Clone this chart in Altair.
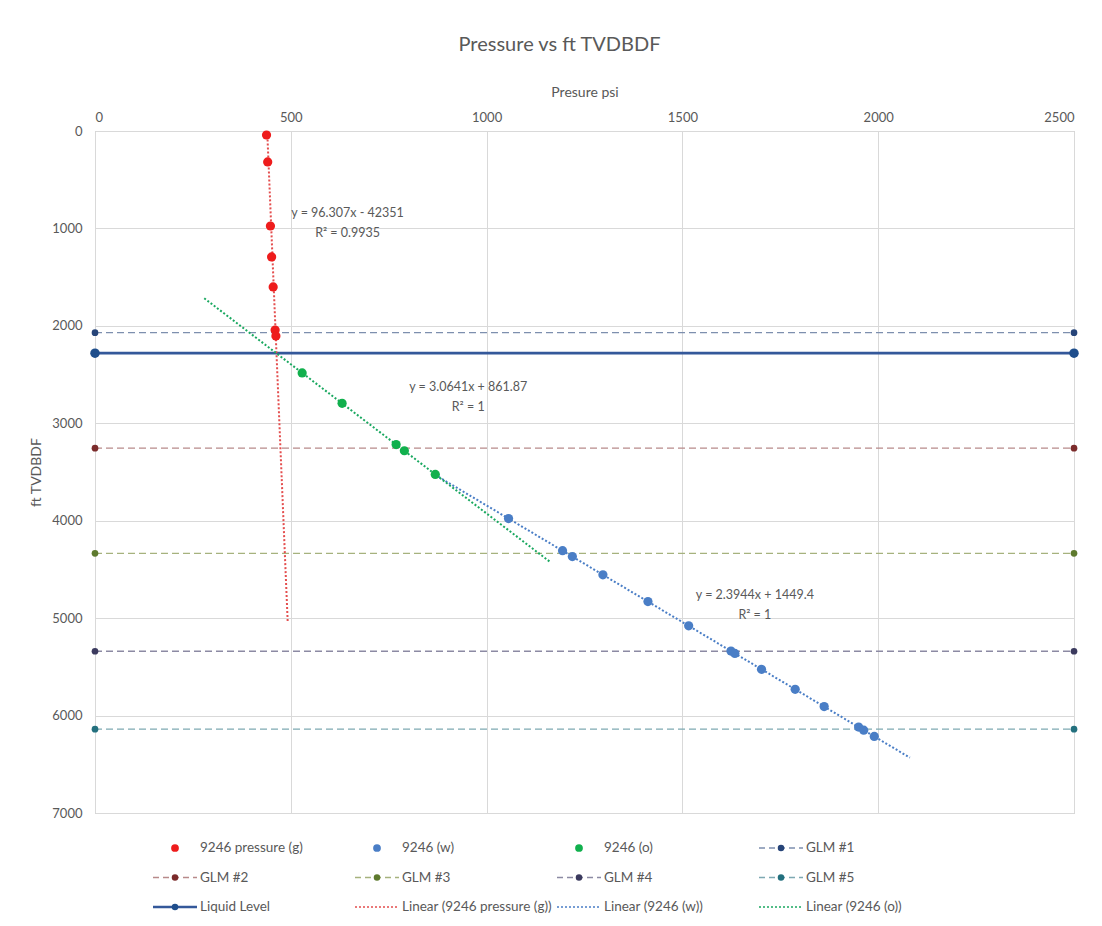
import altair as alt
import pandas as pd

# ---------------- data ----------------
g_psi = [438, 441, 448, 451, 455, 460, 462]
g_depth = [41, 318, 975, 1293, 1601, 2043, 2104]
w_psi = [1056, 1194, 1219, 1297, 1412, 1516, 1624, 1634, 1702, 1788, 1862, 1950, 1963, 1990]
w_depth = [3978, 4308, 4368, 4555, 4830, 5079, 5338, 5362, 5525, 5731, 5908, 6118, 6150, 6214]
o_psi = [529, 631, 769, 790, 869]
o_depth = [2483, 2795, 3218, 3282, 3525]

series_names = ["9246 pressure (g)", "9246 (w)", "9246 (o)"]
series_colors = ["#ee1c1c", "#4a7ec6", "#11b04d"]

glm_names = ["GLM #1", "GLM #2", "GLM #3", "GLM #4", "GLM #5"]
glm_depth = [2070, 3255, 4335, 5340, 6140]
glm_dot_colors = ["#264478", "#7b2b2b", "#5e7a2e", "#3b3a5e", "#23707e"]
glm_line_colors = ["#7d8fae", "#b88a8a", "#a6b27e", "#8c8aa3", "#7ea9b2"]

liquid_name = "Liquid Level"
liquid_depth = 2280
liquid_line_color = "#34589a"
liquid_dot_color = "#1f4e8c"

x_ends = [0, 2500]

trend_slope = [96.307, 2.3944, 3.0641]
trend_intercept = [-42351, 1449.4, 861.87]
trend_x_start = [439.8, 860, 279]
trend_x_end = [492, 2081, 1163]
trend_colors = ["#e44e4e", "#4a7ec6", "#1aa860"]
trend_eq = ["y = 96.307x - 42351", "y = 2.3944x + 1449.4", "y = 3.0641x + 861.87"]
trend_r2 = ["R\u00b2 = 0.9935", "R\u00b2 = 1", "R\u00b2 = 1"]
label_psi = [645, 1685, 953]
label_depth = [842, 4762, 2627]

leg_names = ["9246 pressure (g)", "9246 (w)", "9246 (o)", "GLM #1",
             "GLM #2", "GLM #3", "GLM #4", "GLM #5",
             "Liquid Level", "Linear (9246 pressure (g))", "Linear (9246 (w))", "Linear (9246 (o))"]
leg_kind = ["dot", "dot", "dot", "dash",
            "dash", "dash", "dash", "dash",
            "solid", "dotted", "dotted", "dotted"]
leg_line_colors = [series_colors[0], series_colors[1], series_colors[2], glm_line_colors[0],
                   glm_line_colors[1], glm_line_colors[2], glm_line_colors[3], glm_line_colors[4],
                   liquid_line_color, trend_colors[0], trend_colors[1], trend_colors[2]]
leg_dot_colors = [series_colors[0], series_colors[1], series_colors[2], glm_dot_colors[0],
                  glm_dot_colors[1], glm_dot_colors[2], glm_dot_colors[3], glm_dot_colors[4],
                  liquid_dot_color, trend_colors[0], trend_colors[1], trend_colors[2]]

# ---------------- tables ----------------
pts_rows = []
for name, col, xs_, ys_ in zip(series_names, series_colors, [g_psi, w_psi, o_psi], [g_depth, w_depth, o_depth]):
    for a, b in zip(xs_, ys_):
        pts_rows.append({"series": name, "psi": a, "depth": b, "color": col})
pts_df = pd.DataFrame(pts_rows)

glm_df = pd.DataFrame({"name": glm_names, "depth": glm_depth, "lc": glm_line_colors, "dc": glm_dot_colors})
glm_dots = pd.DataFrame([{"name": n, "psi": e, "depth": d, "dc": c}
                         for n, d, c in zip(glm_names, glm_depth, glm_dot_colors) for e in x_ends])
liq_df = pd.DataFrame({"name": [liquid_name], "depth": [liquid_depth]})
liq_dots = pd.DataFrame({"psi": x_ends, "depth": [liquid_depth] * len(x_ends)})

trend_rows = []
for name, m, b, x0, x1, c in zip(series_names, trend_slope, trend_intercept, trend_x_start, trend_x_end, trend_colors):
    for xv in (x0, x1):
        trend_rows.append({"series": name, "psi": xv, "depth": m * xv + b, "color": c})
trend_df = pd.DataFrame(trend_rows)
lab_df = pd.DataFrame({"psi": label_psi, "depth": label_depth, "eq": trend_eq, "r2": trend_r2})

leg_df = pd.DataFrame({"name": leg_names, "kind": leg_kind, "lc": leg_line_colors, "dc": leg_dot_colors,
                       "row": [i // 4 for i in range(len(leg_names))],
                       "col": [i % 4 for i in range(len(leg_names))]})

# ---------------- scales / axes ----------------
TXT = "#595959"
FONT = "Lato"
xs = alt.Scale(domain=[0, 2500], nice=False, zero=False)
ys = alt.Scale(domain=[0, 7000], reverse=True, nice=False, zero=False)
x_axis = alt.Axis(orient="top", title="Presure psi", values=[0, 500, 1000, 1500, 2000, 2500],
                  format="d", grid=True, ticks=False, domain=False, labelPadding=7, titlePadding=12)
y_axis = alt.Axis(title="ft TVDBDF", values=list(range(0, 7001, 1000)), format="d",
                  grid=True, ticks=False, domain=False, labelPadding=13, titlePadding=8)

base_pts = alt.Chart(pts_df).mark_circle(size=85, opacity=1).encode(
    x=alt.X("psi:Q", scale=xs, axis=x_axis),
    y=alt.Y("depth:Q", scale=ys, axis=y_axis),
    color=alt.Color("color:N", scale=None),
)

glm_rules = alt.Chart(glm_df).mark_rule(strokeDash=[7, 4], strokeWidth=1.3).encode(
    x=alt.datum(0, scale=xs), x2=alt.datum(2500),
    y=alt.Y("depth:Q", scale=ys),
    color=alt.Color("lc:N", scale=None),
)
glm_pts = alt.Chart(glm_dots).mark_circle(size=45, opacity=1).encode(
    x=alt.X("psi:Q", scale=xs), y=alt.Y("depth:Q", scale=ys),
    color=alt.Color("dc:N", scale=None),
)
liq_rule = alt.Chart(liq_df).mark_rule(strokeWidth=2.6, color=liquid_line_color).encode(
    x=alt.datum(0, scale=xs), x2=alt.datum(2500),
    y=alt.Y("depth:Q", scale=ys),
)
liq_pts = alt.Chart(liq_dots).mark_circle(size=90, opacity=1, color=liquid_dot_color).encode(
    x=alt.X("psi:Q", scale=xs), y=alt.Y("depth:Q", scale=ys),
)
trend = alt.Chart(trend_df).mark_line(strokeDash=[2, 2], strokeWidth=2, clip=True).encode(
    x=alt.X("psi:Q", scale=xs), y=alt.Y("depth:Q", scale=ys),
    detail="series:N", color=alt.Color("color:N", scale=None),
)
eq_text = alt.Chart(lab_df).mark_text(fontSize=12.5, color=TXT, font=FONT).encode(
    x=alt.X("psi:Q", scale=xs), y=alt.Y("depth:Q", scale=ys), text="eq:N",
)
r2_text = alt.Chart(lab_df).mark_text(fontSize=12.5, color=TXT, font=FONT, dy=20).encode(
    x=alt.X("psi:Q", scale=xs), y=alt.Y("depth:Q", scale=ys), text="r2:N",
)

main = alt.layer(glm_rules, liq_rule, trend, base_pts, glm_pts, liq_pts, eq_text, r2_text)

# ---------------- legend ----------------
lx = alt.X("col:Q", scale=alt.Scale(domain=[0, 3], range=[80, 686]), axis=None)
ly = alt.Y("row:Q", scale=alt.Scale(domain=[0, 2], range=[717, 776]), axis=None)
lbase = alt.Chart(leg_df)
leg_dash = lbase.mark_rule(strokeDash=[6, 4], strokeWidth=1.3, xOffset=-22, x2Offset=22).encode(
    x=lx, x2="col:Q", y=ly, color=alt.Color("lc:N", scale=None)
).transform_filter(alt.datum.kind == "dash")
leg_solid = lbase.mark_rule(strokeWidth=2.6, xOffset=-22, x2Offset=22).encode(
    x=lx, x2="col:Q", y=ly, color=alt.Color("lc:N", scale=None)
).transform_filter(alt.datum.kind == "solid")
leg_dotted = lbase.mark_rule(strokeDash=[2, 2], strokeWidth=1.5, xOffset=-22, x2Offset=22).encode(
    x=lx, x2="col:Q", y=ly, color=alt.Color("lc:N", scale=None)
).transform_filter(alt.datum.kind == "dotted")
leg_dot_big = lbase.mark_circle(size=60, opacity=1).encode(
    x=lx, y=ly, color=alt.Color("dc:N", scale=None)
).transform_filter(alt.datum.kind == "dot")
leg_dot_small = lbase.mark_circle(size=42, opacity=1).encode(
    x=lx, y=ly, color=alt.Color("dc:N", scale=None)
).transform_filter((alt.datum.kind == "dash") | (alt.datum.kind == "solid"))
leg_text = lbase.mark_text(align="left", baseline="middle", dx=25, fontSize=13.5, color=TXT, font=FONT).encode(
    x=lx, y=ly, text="name:N"
)
legend = alt.layer(leg_dash, leg_solid, leg_dotted, leg_dot_big, leg_dot_small, leg_text)

chart = alt.layer(main, legend).resolve_scale(x="independent", y="independent").properties(
    width=979, height=682,
    title=alt.TitleParams("Pressure vs ft TVDBDF", fontSize=20, font=FONT, color=TXT,
                          fontWeight="normal", anchor="middle", dx=-25, offset=30),
    autosize=alt.AutoSizeParams(type="none"),
    padding={"left": 87, "top": 123, "right": 20, "bottom": 100},
).configure(font=FONT).configure_view(stroke="#bfbfbf", strokeWidth=1).configure_axis(
    labelFont=FONT, titleFont=FONT, labelColor=TXT, titleColor=TXT, labelFontSize=13,
    titleFontSize=14, titleFontWeight="normal", gridColor="#d9d9d9", gridWidth=1,
)

chart.save("out.html", embed_options={"renderer": "svg", "actions": False})
